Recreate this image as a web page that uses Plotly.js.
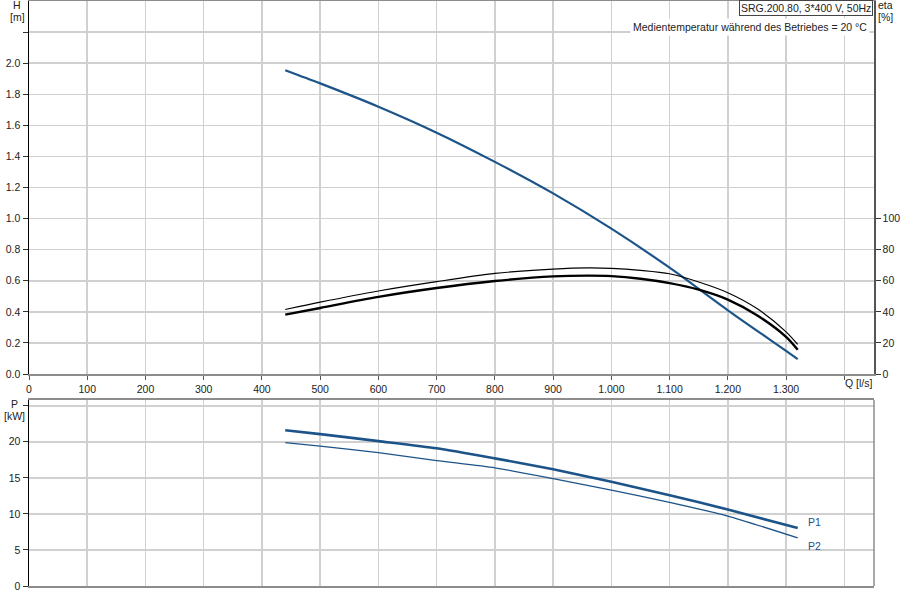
<!DOCTYPE html>
<html>
<head>
<meta charset="utf-8">
<script src="https://cdn.plot.ly/plotly-3.0.1.min.js"></script>
<style>
  html, body { margin: 0; padding: 0; background: #fff; }
  #chart { width: 900px; height: 600px; }
</style>
</head>
<body>
<div id="chart"></div>
<script>
// head curve H [m] against flow Q [l/s]
var qH = [440, 500, 600, 700, 800, 900, 1000, 1100, 1200, 1300, 1320];
var headH = [1.955, 1.87, 1.72, 1.553, 1.365, 1.162, 0.935, 0.684, 0.41, 0.149, 0.096];

// efficiency curves eta [%]
var qEta = [440, 500, 600, 700, 800, 900, 960, 1000, 1050, 1100, 1150, 1200, 1250, 1300, 1320];
var etaUpper = [41.5, 46.2, 53.4, 59.4, 64.7, 67.5, 68.3, 68.0, 66.7, 64.5, 59.2, 52.3, 42.1, 27.1, 19.0];
var etaLower = [38.2, 42.5, 49.6, 55.3, 59.8, 62.8, 63.3, 63.0, 61.3, 58.5, 54.3, 47.9, 37.8, 23.9, 15.6];

// power curves P [kW]
var qP = [440, 500, 600, 700, 800, 900, 1000, 1100, 1200, 1320];
var powerP1 = [21.6, 21.07, 20.1, 19.1, 17.7, 16.2, 14.45, 12.6, 10.6, 8.05];
var powerP2 = [19.9, 19.4, 18.5, 17.4, 16.4, 14.9, 13.3, 11.6, 9.7, 6.67];

// axis ticks
var qTicks = [0, 100, 200, 300, 400, 500, 600, 700, 800, 900, 1000, 1100, 1200, 1300, 1400];
var qTickText = ['0', '100', '200', '300', '400', '500', '600', '700', '800', '900',
                 '1.000', '1.100', '1.200', '1.300', ''];
var hTicks = [0, 0.2, 0.4, 0.6, 0.8, 1.0, 1.2, 1.4, 1.6, 1.8, 2.0, 2.2];
var hTickText = ['0.0', '0.2', '0.4', '0.6', '0.8', '1.0', '1.2', '1.4', '1.6', '1.8', '2.0', ''];
var etaTicks = [0, 20, 40, 60, 80, 100];
var pTicks = [0, 5, 10, 15, 20, 25];
var pTickText = ['0', '5', '10', '15', '20', ''];

var blue = '#1c5489';
var gridColor = '#d0d0d0';
var font = {family: 'Liberation Sans, Arial, sans-serif', size: 10.5, color: '#222'};

// pixel -> paper helpers for the free texts
var L = 29, R = 874, T = 1, B = 586;
function px(x) { return (x - L) / (R - L); }
function py(y) { return (B - y) / (B - T); }

var data = [
  {x: qH, y: headH, mode: 'lines', xaxis: 'x', yaxis: 'y',
   line: {color: blue, width: 2.2, shape: 'spline', smoothing: 0.8}},
  {x: qEta, y: etaUpper, mode: 'lines', xaxis: 'x', yaxis: 'y3',
   line: {color: '#000', width: 1.2, shape: 'spline', smoothing: 0.8}},
  {x: qEta, y: etaLower, mode: 'lines', xaxis: 'x', yaxis: 'y3',
   line: {color: '#000', width: 2.4, shape: 'spline', smoothing: 0.8}},
  {x: qP, y: powerP1, mode: 'lines', xaxis: 'x2', yaxis: 'y2',
   line: {color: blue, width: 2.6, shape: 'spline', smoothing: 0.6}},
  {x: qP, y: powerP2, mode: 'lines', xaxis: 'x2', yaxis: 'y2',
   line: {color: blue, width: 1.3, shape: 'spline', smoothing: 0.6}}
];

var xCommon = {
  range: [0, 1451], tickvals: qTicks, ticktext: qTickText,
  showgrid: true, gridcolor: gridColor, gridwidth: 1.5, zeroline: false,
  showline: true, linecolor: '#8c8c8c', linewidth: 2, mirror: true,
  tickfont: font, fixedrange: true
};

var layout = {
  width: 900, height: 600,
  margin: {l: L, r: 900 - R, t: T, b: 600 - B},
  paper_bgcolor: '#fff', plot_bgcolor: '#fff',
  showlegend: false,
  font: font,
  xaxis: Object.assign({}, xCommon, {
    anchor: 'y', ticks: 'outside', ticklen: 4, tickcolor: '#555'
  }),
  yaxis: {
    domain: [py(374), 1], range: [0, 2.4], tickvals: hTicks, ticktext: hTickText,
    showgrid: true, gridcolor: gridColor, gridwidth: 1.5, zeroline: false,
    showline: true, linecolor: '#000', linewidth: 1.5,
    ticks: 'outside', ticklen: 5, tickcolor: '#333', tickfont: font
  },
  yaxis3: {
    overlaying: 'y', side: 'right', anchor: 'x', range: [0, 240], tickvals: etaTicks,
    showgrid: false, zeroline: false,
    showline: true, linecolor: '#555', linewidth: 1.5,
    ticks: 'outside', ticklen: 5, tickcolor: '#333', tickfont: font
  },
  xaxis2: Object.assign({}, xCommon, {
    anchor: 'y2', showticklabels: false, ticks: ''
  }),
  yaxis2: {
    domain: [0, py(400)], range: [0, 25.8], tickvals: pTicks, ticktext: pTickText,
    showgrid: true, gridcolor: gridColor, gridwidth: 1.5, zeroline: false,
    showline: true, linecolor: '#000', linewidth: 1.5,
    ticks: 'outside', ticklen: 5, tickcolor: '#333', tickfont: font
  },
  shapes: [
    {type: 'line', xref: 'x2 domain', yref: 'y2 domain', x0: 1, x1: 1, y0: 0, y1: 1,
     line: {color: '#8c8c8c', width: 1.5}}
  ],
  annotations: [
    {text: 'H', x: px(17), y: py(5), showarrow: false, xanchor: 'center', yanchor: 'middle'},
    {text: '[m]', x: px(17), y: py(17), showarrow: false, xanchor: 'center', yanchor: 'middle'},
    {text: 'eta', x: px(885), y: py(5), showarrow: false, xanchor: 'center', yanchor: 'middle'},
    {text: '[%]', x: px(885), y: py(17), showarrow: false, xanchor: 'center', yanchor: 'middle'},
    {text: 'P', x: px(14), y: py(404), showarrow: false, xanchor: 'center', yanchor: 'middle'},
    {text: '[kW]', x: px(14), y: py(416), showarrow: false, xanchor: 'center', yanchor: 'middle'},
    {text: 'Q [l/s]', x: px(843), y: py(383), showarrow: false, xanchor: 'left', yanchor: 'middle'},
    {text: 'SRG.200.80, 3*400 V, 50Hz', x: px(873), y: py(0), showarrow: false,
     xanchor: 'right', yanchor: 'top', bgcolor: '#fff', bordercolor: '#444',
     borderwidth: 1, borderpad: 1},
    {text: 'Medientemperatur während des Betriebes = 20 °C', x: px(870), y: py(27),
     showarrow: false, xanchor: 'right', yanchor: 'middle', bgcolor: '#fff', borderpad: 2},
    {text: 'P1', x: px(806), y: py(522), showarrow: false, xanchor: 'left', yanchor: 'middle',
     font: {family: font.family, size: 10.5, color: blue}},
    {text: 'P2', x: px(806), y: py(546), showarrow: false, xanchor: 'left', yanchor: 'middle',
     font: {family: font.family, size: 10.5, color: blue}}
  ].map(function (a) { a.xref = 'paper'; a.yref = 'paper'; return a; })
};

Plotly.newPlot('chart', data, layout, {staticPlot: true});
</script>
</body>
</html>
